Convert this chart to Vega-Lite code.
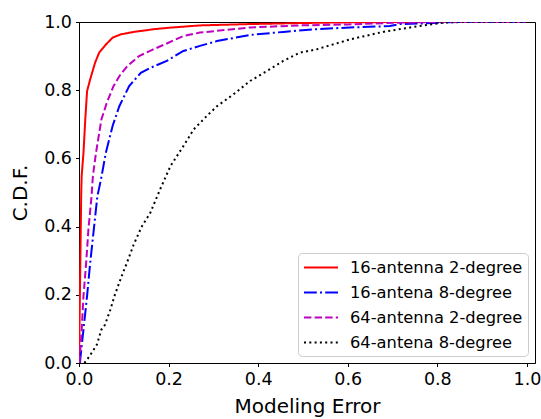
{
  "$schema": "https://vega.github.io/schema/vega-lite/v6.json",
  "width": 456,
  "height": 341,
  "autosize": {"type": "none"},
  "padding": {"left": 79, "top": 22, "right": 6, "bottom": 56},
  "background": "white",
  "config": {
    "font": "DejaVu Sans",
    "view": {"stroke": "black", "strokeWidth": 1},
    "axis": {
      "labelFont": "DejaVu Sans",
      "titleFont": "DejaVu Sans",
      "labelFontSize": 17.5,
      "titleFontSize": 20,
      "titleFontWeight": "normal",
      "labelColor": "black",
      "titleColor": "black",
      "domainColor": "black",
      "tickColor": "black",
      "tickSize": 3.5,
      "labelPadding": 4,
      "labelFlush": false,
      "labelOverlap": false,
      "grid": false
    },
    "legend": {
      "labelFont": "DejaVu Sans",
      "labelFontSize": 16.3,
      "labelColor": "black",
      "labelLimit": 0
    }
  },
  "data": {
    "values": [
      {"series": "16-antenna 2-degree", "err": 0.0, "cdf": 0.0},
      {"series": "16-antenna 2-degree", "err": 0.001, "cdf": 0.1},
      {"series": "16-antenna 2-degree", "err": 0.002, "cdf": 0.2},
      {"series": "16-antenna 2-degree", "err": 0.003, "cdf": 0.3},
      {"series": "16-antenna 2-degree", "err": 0.004, "cdf": 0.4},
      {"series": "16-antenna 2-degree", "err": 0.005, "cdf": 0.5},
      {"series": "16-antenna 2-degree", "err": 0.006, "cdf": 0.55},
      {"series": "16-antenna 2-degree", "err": 0.01, "cdf": 0.617},
      {"series": "16-antenna 2-degree", "err": 0.014, "cdf": 0.714},
      {"series": "16-antenna 2-degree", "err": 0.018, "cdf": 0.797},
      {"series": "16-antenna 2-degree", "err": 0.025, "cdf": 0.832},
      {"series": "16-antenna 2-degree", "err": 0.036, "cdf": 0.881},
      {"series": "16-antenna 2-degree", "err": 0.045, "cdf": 0.91},
      {"series": "16-antenna 2-degree", "err": 0.06, "cdf": 0.934},
      {"series": "16-antenna 2-degree", "err": 0.075, "cdf": 0.954},
      {"series": "16-antenna 2-degree", "err": 0.094, "cdf": 0.964},
      {"series": "16-antenna 2-degree", "err": 0.123, "cdf": 0.971},
      {"series": "16-antenna 2-degree", "err": 0.168, "cdf": 0.979},
      {"series": "16-antenna 2-degree", "err": 0.2, "cdf": 0.983},
      {"series": "16-antenna 2-degree", "err": 0.27, "cdf": 0.99},
      {"series": "16-antenna 2-degree", "err": 0.382, "cdf": 0.994},
      {"series": "16-antenna 2-degree", "err": 0.5, "cdf": 0.997},
      {"series": "16-antenna 2-degree", "err": 0.6, "cdf": 0.999},
      {"series": "16-antenna 2-degree", "err": 0.7, "cdf": 1.0},
      {"series": "16-antenna 2-degree", "err": 1.0, "cdf": 1.0},

      {"series": "16-antena 8-degree", "err": 0.002, "cdf": 0.0},
      {"series": "16-antena 8-degree", "err": 0.006, "cdf": 0.05},
      {"series": "16-antena 8-degree", "err": 0.01, "cdf": 0.098},
      {"series": "16-antena 8-degree", "err": 0.018, "cdf": 0.196},
      {"series": "16-antena 8-degree", "err": 0.025, "cdf": 0.294},
      {"series": "16-antena 8-degree", "err": 0.033, "cdf": 0.391},
      {"series": "16-antena 8-degree", "err": 0.041, "cdf": 0.489},
      {"series": "16-antena 8-degree", "err": 0.049, "cdf": 0.538},
      {"series": "16-antena 8-degree", "err": 0.06, "cdf": 0.617},
      {"series": "16-antena 8-degree", "err": 0.075, "cdf": 0.695},
      {"series": "16-antena 8-degree", "err": 0.09, "cdf": 0.753},
      {"series": "16-antena 8-degree", "err": 0.112, "cdf": 0.812},
      {"series": "16-antena 8-degree", "err": 0.138, "cdf": 0.851},
      {"series": "16-antena 8-degree", "err": 0.162, "cdf": 0.867},
      {"series": "16-antena 8-degree", "err": 0.196, "cdf": 0.886},
      {"series": "16-antena 8-degree", "err": 0.233, "cdf": 0.915},
      {"series": "16-antena 8-degree", "err": 0.27, "cdf": 0.93},
      {"series": "16-antena 8-degree", "err": 0.308, "cdf": 0.944},
      {"series": "16-antena 8-degree", "err": 0.382, "cdf": 0.962},
      {"series": "16-antena 8-degree", "err": 0.456, "cdf": 0.971},
      {"series": "16-antena 8-degree", "err": 0.531, "cdf": 0.979},
      {"series": "16-antena 8-degree", "err": 0.605, "cdf": 0.984},
      {"series": "16-antena 8-degree", "err": 0.694, "cdf": 0.988},
      {"series": "16-antena 8-degree", "err": 0.716, "cdf": 0.994},
      {"series": "16-antena 8-degree", "err": 0.769, "cdf": 0.996},
      {"series": "16-antena 8-degree", "err": 0.82, "cdf": 0.999},
      {"series": "16-antena 8-degree", "err": 0.86, "cdf": 1.0},
      {"series": "16-antena 8-degree", "err": 1.0, "cdf": 1.0},

      {"series": "64-antenna 2-degree", "err": 0.001, "cdf": 0.0},
      {"series": "64-antenna 2-degree", "err": 0.006, "cdf": 0.098},
      {"series": "64-antenna 2-degree", "err": 0.01, "cdf": 0.196},
      {"series": "64-antenna 2-degree", "err": 0.016, "cdf": 0.294},
      {"series": "64-antenna 2-degree", "err": 0.021, "cdf": 0.391},
      {"series": "64-antenna 2-degree", "err": 0.028, "cdf": 0.489},
      {"series": "64-antenna 2-degree", "err": 0.031, "cdf": 0.548},
      {"series": "64-antenna 2-degree", "err": 0.038, "cdf": 0.617},
      {"series": "64-antenna 2-degree", "err": 0.05, "cdf": 0.714},
      {"series": "64-antenna 2-degree", "err": 0.062, "cdf": 0.763},
      {"series": "64-antenna 2-degree", "err": 0.077, "cdf": 0.812},
      {"series": "64-antenna 2-degree", "err": 0.09, "cdf": 0.841},
      {"series": "64-antenna 2-degree", "err": 0.108, "cdf": 0.871},
      {"series": "64-antenna 2-degree", "err": 0.134, "cdf": 0.9},
      {"series": "64-antenna 2-degree", "err": 0.161, "cdf": 0.917},
      {"series": "64-antenna 2-degree", "err": 0.196, "cdf": 0.937},
      {"series": "64-antenna 2-degree", "err": 0.233, "cdf": 0.959},
      {"series": "64-antenna 2-degree", "err": 0.27, "cdf": 0.969},
      {"series": "64-antenna 2-degree", "err": 0.308, "cdf": 0.974},
      {"series": "64-antenna 2-degree", "err": 0.382, "cdf": 0.984},
      {"series": "64-antenna 2-degree", "err": 0.493, "cdf": 0.99},
      {"series": "64-antenna 2-degree", "err": 0.6, "cdf": 0.993},
      {"series": "64-antenna 2-degree", "err": 0.716, "cdf": 0.998},
      {"series": "64-antenna 2-degree", "err": 0.8, "cdf": 1.0},
      {"series": "64-antenna 2-degree", "err": 1.0, "cdf": 1.0},

      {"series": "64-antena 8-degree", "err": 0.012, "cdf": 0.0},
      {"series": "64-antena 8-degree", "err": 0.023, "cdf": 0.019},
      {"series": "64-antena 8-degree", "err": 0.04, "cdf": 0.054},
      {"series": "64-antena 8-degree", "err": 0.05, "cdf": 0.098},
      {"series": "64-antena 8-degree", "err": 0.058, "cdf": 0.112},
      {"series": "64-antena 8-degree", "err": 0.07, "cdf": 0.156},
      {"series": "64-antena 8-degree", "err": 0.079, "cdf": 0.196},
      {"series": "64-antena 8-degree", "err": 0.095, "cdf": 0.254},
      {"series": "64-antena 8-degree", "err": 0.107, "cdf": 0.294},
      {"series": "64-antena 8-degree", "err": 0.122, "cdf": 0.347},
      {"series": "64-antena 8-degree", "err": 0.14, "cdf": 0.4},
      {"series": "64-antena 8-degree", "err": 0.159, "cdf": 0.44},
      {"series": "64-antena 8-degree", "err": 0.181, "cdf": 0.509},
      {"series": "64-antena 8-degree", "err": 0.204, "cdf": 0.577},
      {"series": "64-antena 8-degree", "err": 0.233, "cdf": 0.636},
      {"series": "64-antena 8-degree", "err": 0.256, "cdf": 0.685},
      {"series": "64-antena 8-degree", "err": 0.285, "cdf": 0.724},
      {"series": "64-antena 8-degree", "err": 0.308, "cdf": 0.753},
      {"series": "64-antena 8-degree", "err": 0.345, "cdf": 0.788},
      {"series": "64-antena 8-degree", "err": 0.382, "cdf": 0.827},
      {"series": "64-antena 8-degree", "err": 0.419, "cdf": 0.856},
      {"series": "64-antena 8-degree", "err": 0.456, "cdf": 0.886},
      {"series": "64-antena 8-degree", "err": 0.493, "cdf": 0.91},
      {"series": "64-antena 8-degree", "err": 0.531, "cdf": 0.92},
      {"series": "64-antena 8-degree", "err": 0.605, "cdf": 0.949},
      {"series": "64-antena 8-degree", "err": 0.679, "cdf": 0.971},
      {"series": "64-antena 8-degree", "err": 0.754, "cdf": 0.987},
      {"series": "64-antena 8-degree", "err": 0.813, "cdf": 0.998},
      {"series": "64-antena 8-degree", "err": 0.85, "cdf": 1.0},
      {"series": "64-antena 8-degree", "err": 1.0, "cdf": 1.0}
    ]
  },
  "mark": {"type": "line", "strokeWidth": 2, "clip": true},
  "encoding": {
    "x": {
      "field": "err",
      "type": "quantitative",
      "scale": {"domain": [0, 1.018], "nice": false, "zero": false},
      "axis": {"values": [0, 0.2, 0.4, 0.6, 0.8, 1.0], "format": ".1f", "title": "Modeling Error", "titlePadding": 8}
    },
    "y": {
      "field": "cdf",
      "type": "quantitative",
      "scale": {"domain": [0, 1], "nice": false},
      "axis": {"values": [0, 0.2, 0.4, 0.6, 0.8, 1.0], "format": ".1f", "title": "C.D.F.", "titlePadding": 13}
    },
    "color": {
      "field": "series",
      "type": "nominal",
      "scale": {
        "domain": ["16-antenna 2-degree", "16-antena 8-degree", "64-antenna 2-degree", "64-antena 8-degree"],
        "range": ["#ff0000", "#0000ff", "#bf00bf", "#000000"]
      },
      "legend": {
        "title": null,
        "orient": "bottom-right",
        "offset": 7.5,
        "padding": 5,
        "strokeColor": "#cccccc",
        "fillColor": "white",
        "cornerRadius": 4,
        "symbolType": "M-1,0H3",
        "symbolStrokeWidth": 2,
        "symbolSize": 289,
        "labelOffset": 28,
        "labelLimit": 0,
        "rowPadding": 7
      }
    },
    "strokeDash": {
      "field": "series",
      "type": "nominal",
      "scale": {
        "domain": ["16-antenna 2-degree", "16-antena 8-degree", "64-antenna 2-degree", "64-antena 8-degree"],
        "range": [[1, 0], [12.8, 3.2, 2, 3.2], [7.4, 3.2], [2, 3.3]]
      },
      "legend": {
        "title": null,
        "orient": "bottom-right",
        "offset": 7.5,
        "padding": 5,
        "strokeColor": "#cccccc",
        "fillColor": "white",
        "cornerRadius": 4,
        "symbolType": "M-1,0H3",
        "symbolStrokeWidth": 2,
        "symbolSize": 289,
        "labelOffset": 28,
        "labelLimit": 0,
        "rowPadding": 7
      }
    }
  }
}
